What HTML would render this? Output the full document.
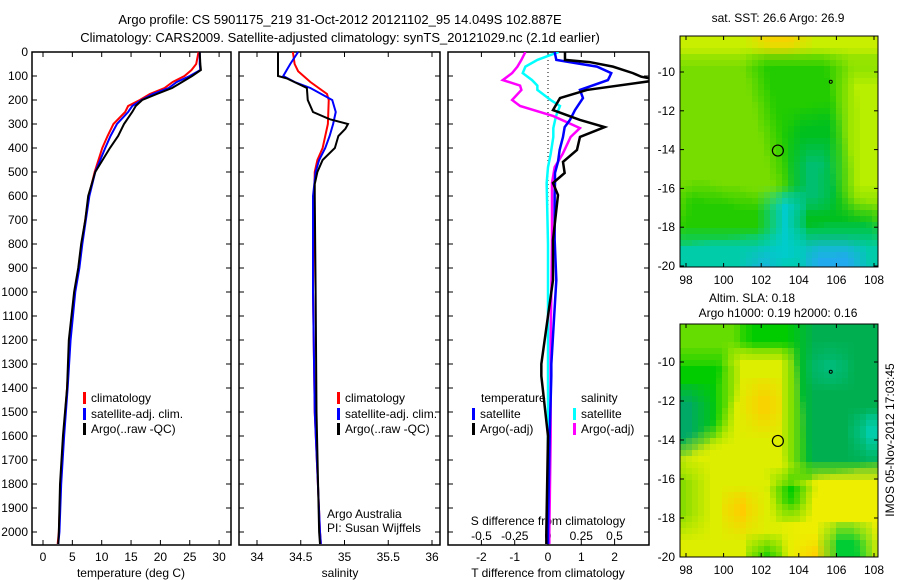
<!DOCTYPE html>
<html><head><meta charset="utf-8"><style>
body{margin:0;background:#fff;}
svg{display:block;font-family:"Liberation Sans",sans-serif;}
text{fill:#000;}
</style></head><body>
<svg id="c" width="900" height="580" viewBox="0 0 900 580">
<defs>
<clipPath id="clipP3"><rect x="448" y="52" width="201" height="493"/></clipPath>
</defs>
<text x="340" y="24" font-size="13" text-anchor="middle">Argo profile: CS 5901175_219 31-Oct-2012 20121102_95 14.049S 102.887E</text>
<text x="340" y="42" font-size="13" text-anchor="middle">Climatology: CARS2009. Satellite-adjusted climatology: synTS_20121029.nc (2.1d earlier)</text>
<g id="g"></g>
</svg>
<script>
// ---------- data ----------
const depthTicks=[0,100,200,300,400,500,600,700,800,900,1000,1100,1200,1300,1400,1500,1600,1700,1800,1900,2000];
const tempTicks=[0,5,10,15,20,25,30];
const salTicks=[34,34.5,35,35.5,36];
const tdTicks=[-2,-1,0,1,2];
const sdTicks=[-0.5,-0.25,0,0.25,0.5];
const sdTickLabels=["-0.5","-0.25","0","0.25","0.5"];
const lonTicks=[98,100,102,104,106,108];
const latTicks=[-10,-12,-14,-16,-18,-20];

const depthT=[0,50,75,100,125,150,175,200,225,250,300,350,400,500,600,700,800,900,1000,1200,1400,1600,1800,2000,2050];
const tempArgo=[26.7,26.8,26.9,25.4,23.7,22.0,19.4,16.9,15.8,15.2,13.8,12.8,11.4,8.9,7.7,7.2,6.5,6.0,5.3,4.4,4.1,3.4,2.9,2.7,2.6];
const tempClim=[26.5,26.1,25.3,24.1,22.1,20.7,18.2,16.5,14.5,14.0,12.0,11.0,10.1,8.8,7.8,7.2,6.6,6.1,5.4,4.6,4.1,3.5,3.0,2.7,2.5];
const tempSat=[26.7,26.7,26.8,25.0,22.8,21.4,18.7,16.8,15.2,14.5,12.6,11.5,10.6,8.9,7.9,7.3,6.7,6.2,5.5,4.7,4.2,3.6,3.1,2.8,2.6];

const depthS=[0,50,100,110,150,200,250,280,300,320,350,400,450,500,550,600,1000,1500,2000,2050];
const salArgo=[34.24,34.24,34.24,34.34,34.57,34.58,34.64,34.83,35.04,35.01,34.93,34.89,34.75,34.69,34.66,34.66,34.67,34.68,34.71,34.72];
const depthS2=[0,50,80,125,175,200,300,400,450,500,700,1000,1500,2000,2050];
const salClim=[34.41,34.43,34.47,34.61,34.80,34.82,34.81,34.75,34.69,34.66,34.65,34.64,34.66,34.72,34.73];
const depthS3=[0,50,100,125,150,200,250,300,350,400,450,500,600,1000,1500,2000,2050];
const salSat=[34.47,34.38,34.30,34.43,34.61,34.86,34.90,34.87,34.83,34.78,34.71,34.67,34.64,34.64,34.66,34.72,34.73];

const depthD=[0,33,42,61,88,103,117,158,192,242,283,313,354,408,458,504,546,596,783,950,1300,1350,1600,2000,2050];
const tdArgo=[0.51,0.51,1.25,1.95,2.55,2.8,3.3,1.17,0.36,0.15,0.96,1.7,0.96,0.87,0.45,0.5,0.15,0.3,0.15,0.15,-0.2,-0.2,0,-0.05,-0.05];
const tdSat=[0.2,0.25,0.65,1.47,1.9,1.85,1.8,0.96,1.05,0.81,0.66,0.5,0.45,0.35,0.3,0.21,0.21,0.2,0.2,0.25,0.1,0.1,0.05,0.0,0.0];
const depthD2=[0,33,61,88,117,140,158,200,225,267,317,354,425,480,546,800,1200,1600,2000,2050];
const sdArgo=[-0.17,-0.2,-0.23,-0.27,-0.34,-0.21,-0.2,-0.27,-0.21,0.04,0.24,0.17,0.11,0.05,0.03,0.03,0.02,0.02,0.01,0.01];
const sdSat=[0.08,-0.08,-0.17,-0.19,-0.12,-0.08,-0.08,0.02,0.09,0.06,0.04,0.04,0.02,0.0,-0.01,0.0,0.0,0.0,0.0,0.0];

// ---------- scales ----------
const yD=d=>52+d*0.24;
const xT=t=>43+t*5.87;
const xS=s=>257+(s-34)*87.5;
const xTD=v=>548+v*33.3;
const xSD=v=>548+v*133;
const xLon=l=>686+(l-98)*18.8;
const yLatT=l=>72+(-10-l)*19.4;
const yLatB=l=>362+(-10-l)*19.5;

const NS="http://www.w3.org/2000/svg";
const G=document.getElementById('g');
function mk(tag,attrs,parent){const e=document.createElementNS(NS,tag);for(const k in attrs)e.setAttribute(k,attrs[k]);(parent||G).appendChild(e);return e;}
function txt(x,y,s,size,anchor,parent){const e=mk('text',{x:x,y:y,'font-size':size||12,'text-anchor':anchor||'start'},parent);e.textContent=s;return e;}

function panel(name,x0,x1){
  const r=mk('rect',{x:x0,y:52,width:x1-x0,height:493,fill:'none',stroke:'#000','stroke-width':1.5});
  
  
  depthTicks.forEach(d=>{mk('line',{x1:x0,x2:x0+5,y1:yD(d),y2:yD(d),stroke:'#000'});mk('line',{x1:x1-5,x2:x1,y1:yD(d),y2:yD(d),stroke:'#000'});});
}
function profile(name,xs,ds,fx,color,w,clip){
  const p=mk('polyline',{points:xs.map((v,i)=>fx(v)+','+yD(ds[i])).join(' '),fill:'none',stroke:color,'stroke-width':w||2});
  if(clip)p.setAttribute('clip-path','url(#clipP3)');
  
  
}
// panel 1
panel('temperature-panel',32,231);
depthTicks.forEach(d=>{const t=txt(28,yD(d)+4,String(d),12,'end');});
tempTicks.forEach(t=>{mk('line',{x1:xT(t),x2:xT(t),y1:545,y2:540,stroke:'#000'});mk('line',{x1:xT(t),x2:xT(t),y1:52,y2:57,stroke:'#000'});const e=txt(xT(t),561,String(t),12,'middle');});
profile('temp-climatology',tempClim,depthT,xT,'#f00',2);
profile('temp-satellite-adj',tempSat,depthT,xT,'#00f',2);
profile('temp-argo',tempArgo,depthT,xT,'#000',2);
const t1=txt(131,577,'temperature (deg C)',12,'middle');
function legend(x,y,color,label,name){const g=mk('g',{});mk('rect',{x:x,y:y-10,width:3,height:12,fill:color},g);txt(x+8,y,label,12,'start',g);}
legend(83,402,'#f00','climatology','legend-climatology');
legend(83,418,'#00f','satellite-adj. clim.','legend-satellite-adj');
legend(83,433,'#000','Argo(..raw -QC)','legend-argo');

// panel 2
panel('salinity-panel',239,440);
salTicks.forEach(s=>{mk('line',{x1:xS(s),x2:xS(s),y1:545,y2:540,stroke:'#000'});mk('line',{x1:xS(s),x2:xS(s),y1:52,y2:57,stroke:'#000'});const e=txt(xS(s),561,String(s),12,'middle');});
profile('sal-climatology',salClim,depthS2,xS,'#f00',2);
profile('sal-satellite-adj',salSat,depthS3,xS,'#00f',2);
profile('sal-argo',salArgo,depthS,xS,'#000',2);
const t2=txt(340,577,'salinity',12,'middle');
legend(337,402,'#f00','climatology','legend2-climatology');
legend(337,418,'#00f','satellite-adj. clim.','legend2-satellite-adj');
legend(337,433,'#000','Argo(..raw -QC)','legend2-argo');
const a1=txt(327,518,'Argo Australia',12);
const a2=txt(327,532,'PI: Susan Wijffels',12);

// panel 3
panel('difference-panel',448,649);
for(let d=52;d<545;d+=4)mk('rect',{x:547.5,y:d,width:1,height:1,fill:'#000'});
tdTicks.forEach(v=>{mk('line',{x1:xTD(v),x2:xTD(v),y1:545,y2:540,stroke:'#000'});mk('line',{x1:xTD(v),x2:xTD(v),y1:52,y2:57,stroke:'#000'});const e=txt(xTD(v),561,String(v),12,'middle');});
sdTicks.forEach((v,i)=>{const e=txt(xSD(v),540,sdTickLabels[i],12,'middle');});
const t3=txt(548,525,'S difference from climatology',12,'middle');
const t4=txt(548,577,'T difference from climatology',12,'middle');
profile('sdiff-satellite',sdSat,depthD2,xSD,'#0ff',2.5,true);
profile('sdiff-argo',sdArgo,depthD2,xSD,'#f0f',2.5,true);
profile('tdiff-satellite',tdSat,depthD,xTD,'#00f',2.5,true);
profile('tdiff-argo',tdArgo,depthD,xTD,'#000',2.5,true);
const l1=txt(481,402,'temperature',12);
const l2=txt(581,402,'salinity',12);
legend(472,418,'#00f','satellite','legend3-t-satellite');
legend(472,433,'#000','Argo(-adj)','legend3-t-argo');
legend(573,418,'#0ff','satellite','legend3-s-satellite');
legend(573,433,'#f0f','Argo(-adj)','legend3-s-argo');

// ---------- maps (smoothed pixel grid) ----------
function hex(c){return [parseInt(c.substr(1,2),16),parseInt(c.substr(3,2),16),parseInt(c.substr(5,2),16)];}
function inPoly(x,y,pts){let ins=false;for(let i=0,j=pts.length-1;i<pts.length;j=i++){const xi=pts[i][0],yi=pts[i][1],xj=pts[j][0],yj=pts[j][1];if(((yi>y)!=(yj>y))&&(x<(xj-xi)*(y-yi)/(yj-yi)+xi))ins=!ins;}return ins;}
function map(name,yTop,yLat,h,base,shapes){
  const g=mk('g',{});
  const polys=shapes.map(s=>({c:hex(s[0]),p:s[1].map(p=>[xLon(p[0]),yLat(p[1])])}));
  const bc=hex(base);
  const colAt=(x,y)=>{let c=bc;for(const q of polys){if(inPoly(x,y,q.p))c=q.c;}return c;};
  const cs=6;
  for(let y=yTop;y<yTop+h;y+=cs){
    for(let x=680;x<878;x+=cs){
      let r=0,gg=0,b=0,n=0;
      for(let dy=-10;dy<=10;dy+=5)for(let dx=-10;dx<=10;dx+=5){const c=colAt(x+cs/2+dx,y+cs/2+dy);r+=c[0];gg+=c[1];b+=c[2];n++;}
      mk('rect',{x:x,y:y,width:Math.min(cs,878-x),height:Math.min(cs,yTop+h-y),fill:'rgb('+Math.round(r/n)+','+Math.round(gg/n)+','+Math.round(b/n)+')'},g);
    }
  }
  mk('rect',{x:680,y:yTop,width:198,height:h,fill:'none',stroke:'#000','stroke-width':1},g);
  lonTicks.forEach(l=>{mk('line',{x1:xLon(l),x2:xLon(l),y1:yTop+h,y2:yTop+h-4,stroke:'#000'},g);mk('line',{x1:xLon(l),x2:xLon(l),y1:yTop,y2:yTop+4,stroke:'#000'},g);txt(xLon(l),yTop+h+17,String(l),12,'middle',g);});
  latTicks.forEach(l=>{mk('line',{x1:680,x2:684,y1:yLat(l),y2:yLat(l),stroke:'#000'},g);mk('line',{x1:874,x2:878,y1:yLat(l),y2:yLat(l),stroke:'#000'},g);txt(675,yLat(l)+4,String(l),12,'end',g);});
  mk('circle',{cx:xLon(102.887),cy:yLat(-14.049),r:5.5,fill:'none',stroke:'#000','stroke-width':1.2},g);
  mk('circle',{cx:xLon(105.7),cy:yLat(-10.5),r:1.5,fill:'none',stroke:'#000','stroke-width':1},g);
}
map('sst-map',36,yLatT,231,'#77dd00',[
  ['#c8ee00',[[97,-7],[109,-7],[109,-9.2],[97,-9.2]]],
  ['#ffcc00',[[101.5,-7],[104.5,-7],[104,-8.8],[102,-8.8]]],
  ['#b8ee00',[[106.5,-10],[109,-10],[109,-16.5],[106.8,-16.5]]],
  ['#22cc00',[[101.5,-9.2],[106,-9.2],[106.3,-16],[104,-17],[98,-16],[97,-19],[104,-19]]],
  ['#00c020',[[103.6,-12.5],[106,-12],[106.5,-17],[108.5,-17.5],[108.5,-19],[103.5,-18.5]]],
  ['#00c070',[[104,-14],[105.8,-14],[105.5,-17],[104,-17]]],
  ['#00ccaa',[[97,-18.6],[109,-18.3],[109,-21],[97,-21]]],
  ['#00cccc',[[102.5,-16.3],[104,-16.3],[104,-20],[102.5,-20]]],
  ['#22aaee',[[104.5,-19],[107,-18.9],[107.5,-21],[104.5,-21]]],
  ['#22aaee',[[101.5,-19.6],[102.6,-19.6],[102.6,-21],[101.5,-21]]]
]);
map('sla-map',324,yLatB,233,'#00cc00',[
  ['#66dd00',[[97,-7],[101,-7],[101,-9.8],[97,-9.8]]],
  ['#00aa66',[[97,-11.5],[99,-11.5],[99,-14.5],[97,-14.5]]],
  ['#00b050',[[104,-7],[109,-7],[109,-15.5],[104.3,-15.5]]],
  ['#00ccaa',[[107.2,-12.8],[109,-12.8],[109,-14.5],[107.2,-14.5]]],
  ['#00bb77',[[104.8,-9.5],[106.5,-9.5],[106.5,-11],[104.8,-11]]],
  ['#ddee00',[[100.4,-9.4],[103.6,-9.4],[103.8,-15.5],[103.8,-20.5],[97,-20.5],[97,-15],[100,-13.5]]],
  ['#eeee00',[[103.5,-15.7],[109,-15.5],[109,-20.5],[103.5,-20.5]]],
  ['#ffcc00',[[101.5,-11.2],[102.7,-11.2],[102.7,-13.3],[101.5,-13.3]]],
  ['#ffcc00',[[100.3,-16.8],[101.6,-16.8],[101.6,-18.5],[100.3,-18.5]]],
  ['#ffcc00',[[104.3,-19.3],[105.3,-19.3],[105.3,-20.5],[104.3,-20.5]]],
  ['#00cc00',[[102.8,-16],[104.4,-16],[104,-17.8],[103.2,-17.8]]],
  ['#00cc33',[[105.6,-18.6],[107.5,-18.6],[107.8,-20.5],[105.6,-20.5]]],
  ['#00cc00',[[101.6,-19.4],[103,-19.4],[103,-20.5],[101.6,-20.5]]],
  ['#88dd00',[[97,-15.5],[98.6,-15.5],[98.6,-18.5],[97,-18.5]]]
]);
const mt=txt(778,22,'sat. SST: 26.6 Argo: 26.9',12,'middle');
const mb1=txt(752,302,'Altim. SLA: 0.18',12,'middle');
const mb2=txt(778,317,'Argo h1000: 0.19 h2000: 0.16',12,'middle');
const im=txt(0,0,'IMOS 05-Nov-2012 17:03:45',12,'middle');im.setAttribute('transform','translate(894,440) rotate(-90)');


</script>
</body></html>
